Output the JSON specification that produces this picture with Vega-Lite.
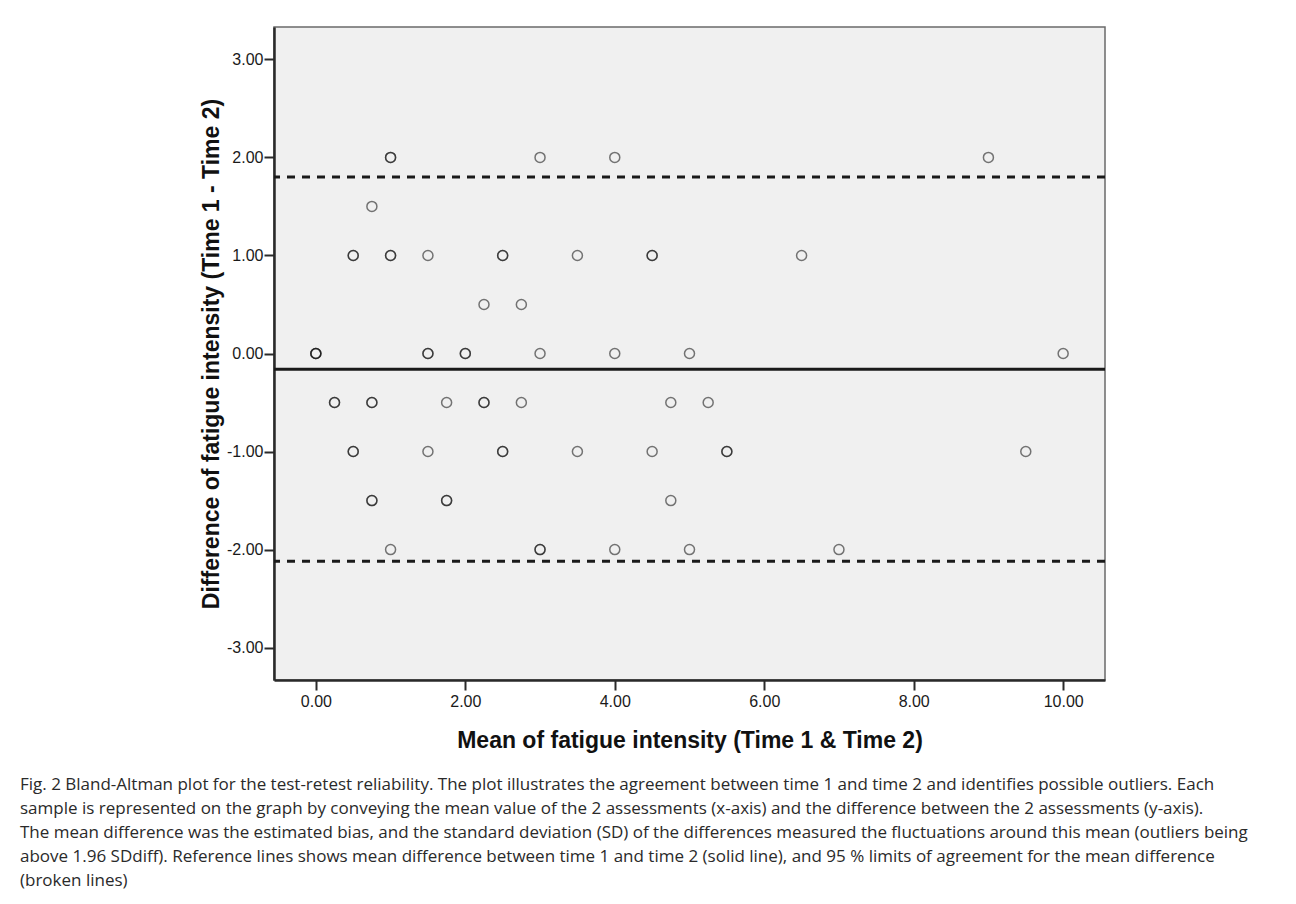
{
  "$schema": "https://vega.github.io/schema/vega-lite/v6.json",
  "width": 831,
  "height": 653,
  "autosize": "none",
  "padding": {"left": 274, "top": 27, "right": 191, "bottom": 224},
  "background": "white",
  "title": {
    "text": [
      "Fig. 2 Bland-Altman plot for the test-retest reliability. The plot illustrates the agreement between time 1 and time 2 and identifies possible outliers. Each",
      "sample is represented on the graph by conveying the mean value of the 2 assessments (x-axis) and the difference between the 2 assessments (y-axis).",
      "The mean difference was the estimated bias, and the standard deviation (SD) of the differences measured the fluctuations around this mean (outliers being",
      "above 1.96 SDdiff). Reference lines shows mean difference between time 1 and time 2 (solid line), and 95 % limits of agreement for the mean difference",
      "(broken lines)"
    ],
    "orient": "bottom",
    "anchor": "start",
    "frame": "group",
    "dx": -254,
    "offset": 25,
    "font": "Open Sans",
    "fontSize": 17,
    "fontWeight": "normal",
    "color": "#2a2a2a",
    "lineHeight": 24
  },
  "config": {
    "view": {"fill": "#f0f0f0", "stroke": "#6a6a6a", "strokeWidth": 1.5}
  },
  "datasets": {
    "samples": [
      {"mean": 1.0, "diff": 2}, {"mean": 1.0, "diff": 2}, {"mean": 3.0, "diff": 2}, {"mean": 4.0, "diff": 2}, {"mean": 9.0, "diff": 2},
      {"mean": 0.75, "diff": 1.5},
      {"mean": 0.5, "diff": 1}, {"mean": 0.5, "diff": 1}, {"mean": 1.0, "diff": 1}, {"mean": 1.0, "diff": 1}, {"mean": 1.5, "diff": 1},
      {"mean": 2.5, "diff": 1}, {"mean": 2.5, "diff": 1}, {"mean": 3.5, "diff": 1}, {"mean": 4.5, "diff": 1}, {"mean": 4.5, "diff": 1}, {"mean": 6.5, "diff": 1},
      {"mean": 2.25, "diff": 0.5}, {"mean": 2.75, "diff": 0.5},
      {"mean": 0.0, "diff": 0}, {"mean": 0.0, "diff": 0}, {"mean": 0.0, "diff": 0}, {"mean": 1.5, "diff": 0}, {"mean": 1.5, "diff": 0},
      {"mean": 2.0, "diff": 0}, {"mean": 2.0, "diff": 0}, {"mean": 3.0, "diff": 0}, {"mean": 4.0, "diff": 0}, {"mean": 5.0, "diff": 0}, {"mean": 10.0, "diff": 0},
      {"mean": 0.25, "diff": -0.5}, {"mean": 0.25, "diff": -0.5}, {"mean": 0.75, "diff": -0.5}, {"mean": 0.75, "diff": -0.5}, {"mean": 1.75, "diff": -0.5},
      {"mean": 2.25, "diff": -0.5}, {"mean": 2.25, "diff": -0.5}, {"mean": 2.75, "diff": -0.5}, {"mean": 4.75, "diff": -0.5}, {"mean": 5.25, "diff": -0.5},
      {"mean": 0.5, "diff": -1}, {"mean": 0.5, "diff": -1}, {"mean": 1.5, "diff": -1}, {"mean": 2.5, "diff": -1}, {"mean": 2.5, "diff": -1},
      {"mean": 3.5, "diff": -1}, {"mean": 4.5, "diff": -1}, {"mean": 5.5, "diff": -1}, {"mean": 5.5, "diff": -1}, {"mean": 9.5, "diff": -1},
      {"mean": 0.75, "diff": -1.5}, {"mean": 0.75, "diff": -1.5}, {"mean": 1.75, "diff": -1.5}, {"mean": 1.75, "diff": -1.5}, {"mean": 4.75, "diff": -1.5},
      {"mean": 1.0, "diff": -2}, {"mean": 3.0, "diff": -2}, {"mean": 3.0, "diff": -2}, {"mean": 4.0, "diff": -2}, {"mean": 5.0, "diff": -2}, {"mean": 7.0, "diff": -2}
    ],
    "refs": [
      {"line": "mean", "diff": -0.16},
      {"line": "upper limit", "diff": 1.80},
      {"line": "lower limit", "diff": -2.12}
    ]
  },
  "layer": [
    {
      "data": {"name": "refs"},
      "transform": [{"filter": "datum.line == 'mean'"}],
      "mark": {"type": "rule", "stroke": "#1a1a1a", "strokeWidth": 3},
      "encoding": {
        "y": {
          "field": "diff",
          "type": "quantitative",
          "scale": {"domain": [-3.33, 3.33], "nice": false, "zero": false},
          "axis": {
            "title": "Difference of fatigue intensity (Time 1 - Time 2)",
            "values": [-3, -2, -1, 0, 1, 2, 3],
            "labelExpr": "replace(format(datum.value, '.2f'), '\u2212', '-')",
            "grid": false,
            "domainColor": "#2a2a2a",
            "domainWidth": 2.5,
            "tickColor": "#2a2a2a",
            "tickWidth": 2,
            "tickSize": 10,
            "labelPadding": 1,
            "labelFont": "Liberation Sans",
            "labelFontSize": 16,
            "labelColor": "#1a1a1a",
            "titleFont": "Liberation Sans",
            "titleFontSize": 23,
            "titleFontWeight": "bold",
            "titleColor": "#111111",
            "titlePadding": 3
          }
        }
      }
    },
    {
      "data": {"name": "refs"},
      "transform": [{"filter": "datum.line != 'mean'"}],
      "mark": {"type": "rule", "stroke": "#1a1a1a", "strokeWidth": 3, "strokeDash": [8, 7]},
      "encoding": {
        "y": {"field": "diff", "type": "quantitative"}
      }
    },
    {
      "data": {"name": "samples"},
      "mark": {"type": "point", "shape": "circle", "filled": false, "size": 100, "stroke": "#111111", "strokeWidth": 1.5, "strokeOpacity": 0.8},
      "encoding": {
        "x": {
          "field": "mean",
          "type": "quantitative",
          "scale": {"domain": [-0.56, 10.56], "nice": false, "zero": false},
          "axis": {
            "title": "Mean of fatigue intensity (Time 1 & Time 2)",
            "values": [0, 2, 4, 6, 8, 10],
            "labelExpr": "replace(format(datum.value, '.2f'), '\u2212', '-')",
            "grid": false,
            "domainColor": "#2a2a2a",
            "domainWidth": 2.5,
            "tickColor": "#2a2a2a",
            "tickWidth": 2,
            "tickSize": 10,
            "labelPadding": 3,
            "labelFont": "Liberation Sans",
            "labelFontSize": 16,
            "labelColor": "#1a1a1a",
            "titleFont": "Liberation Sans",
            "titleFontSize": 23,
            "titleFontWeight": "bold",
            "titleColor": "#111111",
            "titlePadding": 20
          }
        },
        "y": {"field": "diff", "type": "quantitative"}
      }
    }
  ]
}
